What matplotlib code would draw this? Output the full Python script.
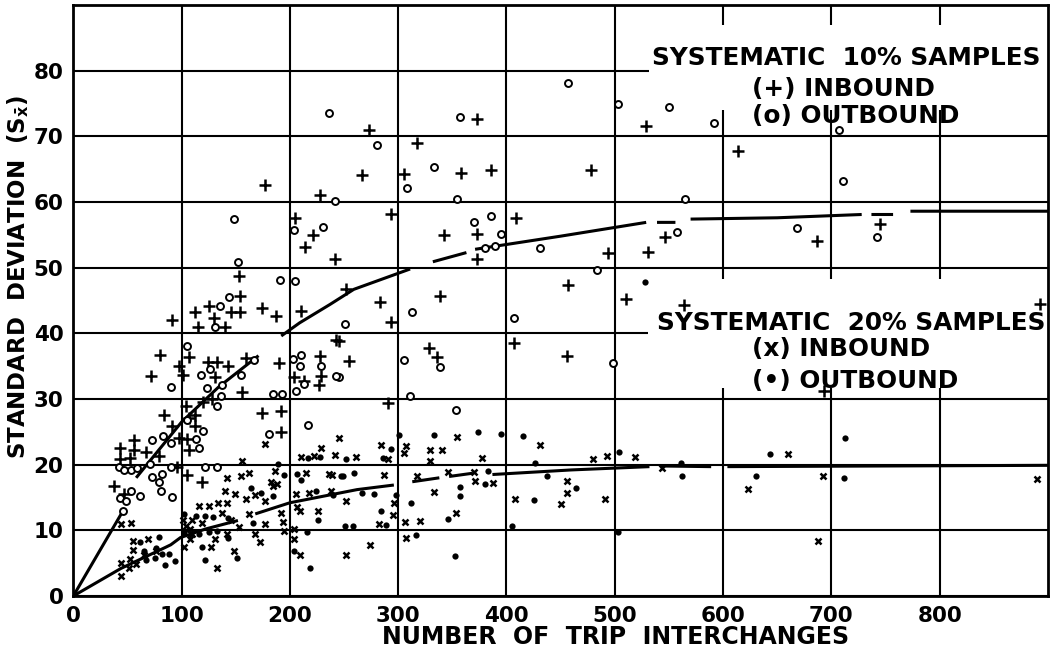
import numpy as np
import matplotlib
matplotlib.use('Agg')
import matplotlib.pyplot as plt
from matplotlib.patches import Rectangle

nan = np.nan

# 10% samples, inbound (+)
in10_x = [91, 112, 115, 125, 130, 140, 154, 146, 154, 153, 177, 174, 187, 210, 205, 214, 221, 242, 228, 252,
          273, 267, 305, 317, 358, 386, 373, 293, 529, 478, 409, 373, 342, 373, 494, 531, 546, 510, 457, 339,
          283, 293, 564, 893, 614, 687, 745, 245, 255, 328, 336, 291, 407, 456, 693,
          80, 72, 98, 107, 101, 124, 133, 143, 131, 159, 156, 128, 120, 104, 112, 107, 112, 105, 107, 84, 91,
          98, 79, 56, 56, 67, 43, 52, 43, 38, 47, 96, 105, 119, 174, 192, 192, 190, 204, 213, 228, 229, 227, 243]
in10_y = [42, 43.3, 41, 44.1, 42.4, 41, 45.7, 43.3, 43.3, 48.7, 62.6, 43.9, 42.7, 43.4, 57.5, 53.2, 55, 51.3, 61.1, 46.7,
          71, 64.1, 64.3, 69, 64.4, 64.9, 72.6, 58.1, 71.6, 64.9, 57.6, 55.1, 55, 51.3, 52.2, 52.4, 54.6, 45.3, 47.4, 45.7,
          44.7, 41.8, 44.3, 44.5, 67.7, 54.1, 56.6, 38.8, 35.8, 37.8, 36.4, 29.4, 38.5, 36.6, 31.2,
          36.7, 33.5, 35.1, 36.4, 33.7, 35.6, 35.7, 35.1, 33.3, 36.2, 31, 30, 29.5, 29, 27.6, 27.1, 25.9, 23.9, 22.3, 27.5, 25.9,
          24, 21.3, 23.8, 22.3, 21.9, 22.6, 21, 20.9, 16.7, 15.5, 19.6, 18.4, 17.4, 27.9, 28.1, 24.9, 35.5, 33.3, 32.7, 36.5, 33.5, 32.2, 39]

# 10% samples, outbound (o)
out10_x = [135, 131, 144, 152, 148, 191, 205, 204, 231, 242, 236, 251,
           280, 308, 333, 357, 354, 457, 503, 550, 565, 370, 386, 395, 380, 389, 431, 484, 557, 313, 407,
           592, 707, 711, 668, 742, 245, 305, 339, 311, 353, 498,
           90, 105, 118, 126, 137, 155, 167, 123, 133, 136, 120, 113, 116, 105, 83, 90, 73, 42, 47, 53, 59, 71, 73,
           43, 49, 53, 62, 79, 82, 81, 91, 90, 122, 133, 46, 181, 184, 193, 206, 213, 203, 210, 209, 229, 243, 217]
out10_y = [44.2, 41, 45.5, 50.8, 57.4, 48.1, 48, 55.8, 56.2, 60.1, 73.6, 41.4,
           68.7, 62.1, 65.3, 72.9, 60.5, 78.1, 74.9, 74.4, 60.4, 56.9, 57.8, 55.2, 53, 53.3, 53, 49.7, 55.4, 43.2, 42.3,
           72, 70.9, 63.2, 56, 54.6, 33.4, 36, 34.8, 30.5, 28.3, 35.5,
           31.8, 38, 33.6, 34.6, 32.2, 33.6, 36, 31.6, 29, 30.5, 25.1, 23.9, 22.5, 26.8, 24.4, 23.3, 23.8, 19.6, 19.2, 19.2, 19.5, 20.1, 18.1,
           14.9, 14.4, 16, 15.2, 17.4, 18.6, 16, 15, 19.7, 19.6, 19.6, 12.9, 24.7, 30.8, 30.8, 31.2, 32.3, 36.1, 36.7, 35, 35, 33.5, 26]

# 20% samples, inbound (x)
in20_x = [245, 354, 431, 284, 307, 305, 329, 340, 242, 261, 291, 329, 377, 480, 493, 519, 544, 370, 346, 371,
          388, 456, 456, 450, 491, 408, 333, 317, 239, 287, 252, 296, 295, 282, 306, 320, 353, 307, 274, 252,
          660, 692, 623, 890, 688,
          177, 210, 222, 229, 156, 162, 155, 142, 140, 149, 159, 168, 177, 184, 188, 186, 183, 192, 194, 195,
          177, 168, 172, 162, 215, 236, 206, 218, 238, 207, 209, 226, 204, 204, 209,
          101, 104, 110, 116, 125, 134, 142, 137, 146, 119, 108, 131, 108, 110, 127, 148, 133, 142, 153, 102,
          44, 53, 55, 55, 65, 69, 76, 44, 51, 58, 44, 52]
in20_y = [24, 24.2, 23, 23, 22.9, 21.8, 22.3, 22.2, 21.4, 21.2, 20.9, 20.5, 21, 20.9, 21.3, 21.2, 19.5, 18.9, 18.9, 17.5,
          17.2, 17.5, 15.7, 14, 14.7, 14.8, 15.9, 18.3, 18.4, 18.4, 14.4, 14.2, 12.4, 10.9, 11.2, 11.4, 12.7, 8.9, 7.7, 6.2,
          21.6, 18.3, 16.3, 17.8, 8.3,
          23.1, 21.1, 21.3, 22.6, 20.6, 18.8, 18.2, 18, 16, 15.5, 14.7, 15.4, 14.5, 16.7, 17, 19, 17.4, 12.7, 11.2, 9.9,
          10.9, 9.4, 8.2, 12.5, 18.7, 18.6, 15.6, 15.7, 16, 13.5, 13, 13, 10.2, 8.7, 6.2,
          11.6, 10.7, 11.6, 13.7, 13.7, 14.1, 14.1, 12.6, 11.5, 11.1, 10.2, 8.7, 8.7, 9.4, 7.4, 6.9, 4.2, 9.5, 10.5, 7.4,
          10.9, 11.1, 8.4, 7, 6.2, 8.7, 6.9, 5, 4.3, 4.9, 3, 5.7]

# 20% samples, outbound (filled dot)
out20_x = [528, 301, 333, 374, 395, 415, 293, 252, 286, 426, 504, 561, 562, 383, 380, 437, 464, 425, 357, 357,
           259, 249, 278, 267, 240, 298, 312, 284, 289, 251, 258, 346, 405, 503, 316, 352,
           713, 643, 712, 630,
           217, 228, 164, 173, 189, 195, 184, 166, 207, 210, 247, 224, 226, 216, 204, 219,
           102, 113, 122, 129, 143, 116, 125, 133, 119, 143, 151, 122, 102,
           62, 65, 79, 82, 67, 75, 88, 85, 94, 76]
out20_y = [47.8, 24.5, 24.5, 24.9, 24.7, 24.4, 22.4, 20.9, 21, 20.2, 22, 20.3, 18.3, 19, 17, 18.3, 16.5, 14.6, 16.6, 15.3,
           18.8, 18.2, 15.5, 15.7, 15.4, 15.4, 14.2, 12.9, 10.8, 10.7, 10.7, 11.7, 10.7, 9.7, 9.3, 6.1,
           24.1, 21.6, 18, 18.2,
           21, 21.1, 16.5, 15.7, 20.1, 18.4, 15.3, 11.1, 18.6, 17.7, 18.2, 16, 11.5, 9.8, 6.9, 4.2,
           12.5, 12.2, 12.2, 12.1, 11.9, 9.4, 9.7, 9.9, 7.4, 8.9, 5.8, 5.5, 9.7,
           8.2, 6.9, 9, 6.4, 5.5, 5.8, 6.4, 4.7, 5.4, 7.3]

# fitted curves as drawn (nan = gap in the dashed parts)
curve10_x = [0, 46, nan, 58, 100, 134, 171, nan, 192, 209, 237, 259, 311, nan, 332, 363, nan,
             371, 450, 529, nan, 539, 556, nan, 570, 650, 728, nan, 737, 757, nan, 773, 900]
curve10_y = [0, 13, nan, 18, 26.5, 31.8, 36.6, nan, 39.6, 41.6, 44.4, 46.7, 49.8, nan, 50.9, 52.3, nan,
             52.8, 54.8, 56.9, nan, 56.9, 56.9, nan, 57.4, 57.6, 58.1, nan, 58.1, 58.1, nan, 58.6, 58.6]

curve20_x = [0, 44, 85, 90, 99, 122, 152, nan, 168, 200, 262, 296, nan, 313, 338, nan, 347, 369, nan,
             387, 460, 532, nan, 542, 589, nan, 604, 900]
curve20_y = [0, 4.2, 7.4, 7.8, 8.9, 10.2, 11.5, nan, 12.5, 14.2, 16.2, 16.9, nan, 17.4, 18.0, nan, 18.2, 18.7, nan,
             18.5, 19.2, 19.7, nan, 19.8, 19.7, nan, 19.7, 19.9]

plt.rcParams['font.family'] = ['DejaVu Sans']
plt.rcParams['font.weight'] = 'bold'
plt.rcParams['mathtext.fontset'] = 'dejavusans'

fig = plt.figure(figsize=(10.58, 6.53), dpi=100)
ax = fig.add_axes([0.0693, 0.0873, 0.9212, 0.905])

ax.set_xlim(0, 900)
ax.set_ylim(0, 90)
ax.set_xticks(range(0, 801, 100))
ax.set_yticks(range(0, 81, 10))
ax.tick_params(length=0, labelsize=15.5, pad=7)
ax.set_axisbelow(True)
ax.grid(True, color='black', lw=1.5)
for s in ax.spines.values():
    s.set_linewidth(2)
    s.set_zorder(6)

# white patches where the key is pasted over the grid
ax.add_patch(Rectangle((532, 74), 368, 13, facecolor='white', edgecolor='none', zorder=1))
ax.add_patch(Rectangle((531, 31.7), 369, 16.5, facecolor='white', edgecolor='none', zorder=1))

ax.plot(curve10_x, curve10_y, color='black', lw=2.2, zorder=2, solid_capstyle='butt')
ax.plot(curve20_x, curve20_y, color='black', lw=2.2, zorder=2, solid_capstyle='butt')

ax.plot(in10_x, in10_y, ls='none', marker='+', ms=8, mew=1.8, color='black', zorder=3)
ax.plot(out10_x, out10_y, ls='none', marker='o', ms=5, mew=1.4, mfc='white', mec='black', zorder=3)
ax.plot(in20_x, in20_y, ls='none', marker='x', ms=5, mew=1.8, color='black', zorder=3)
ax.plot(out20_x, out20_y, ls='none', marker='o', ms=4.5, mew=0, color='black', zorder=3)

key = dict(fontsize=17.8, fontweight='bold', ha='left', va='baseline', zorder=4)
ax.text(534.4, 80.9, 'SYSTEMATIC  10% SAMPLES', **key)
ax.text(626.7, 76.1, '(+) INBOUND', **key)
ax.text(626.7, 72.0, '(o) OUTBOUND', **key)
ax.text(539, 40.5, 'SYSTEMATIC  20% SAMPLES', **key)
ax.text(626.7, 36.5, '(x) INBOUND', **key)
ax.text(626.7, 31.7, '(\u2022) OUTBOUND', **key)

fig.text(616 / 1058, 1 - 637 / 653, 'NUMBER  OF  TRIP  INTERCHANGES',
         fontsize=17, fontweight='bold', ha='center', va='center')
fig.text(18 / 1058, 1 - 277 / 653, r'STANDARD  DEVIATION  ($\mathbf{S}_{\bar{\mathbf{x}}}$)',
         fontsize=16.5, fontweight='bold', ha='center', va='center', rotation=90)

fig.savefig('out.png', dpi=100)
